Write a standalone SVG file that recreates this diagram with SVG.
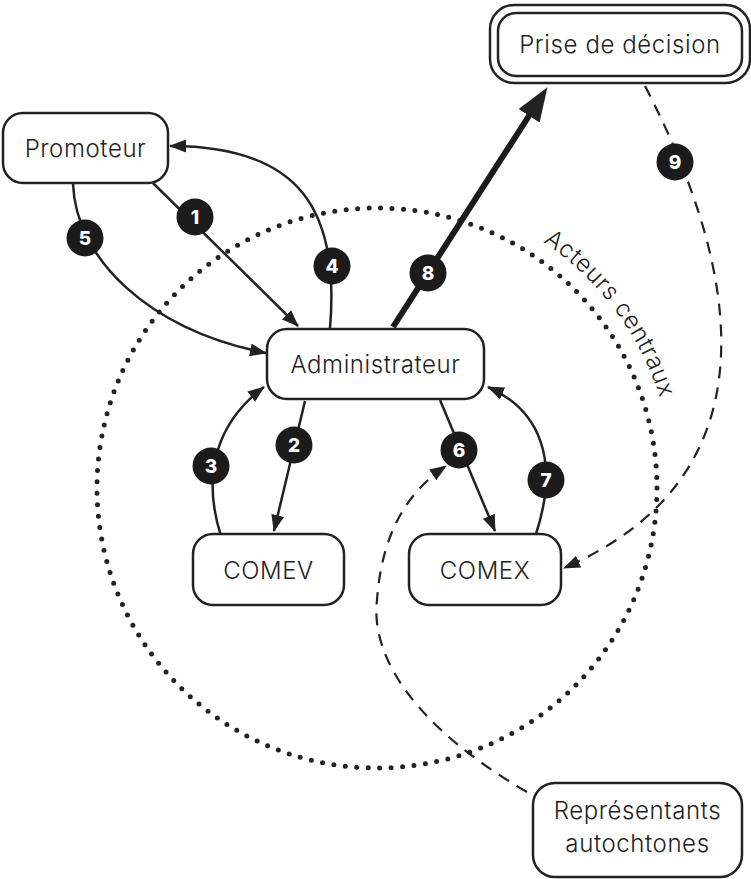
<svg xmlns="http://www.w3.org/2000/svg" width="751" height="879" viewBox="0 0 751 879">
<defs>
<marker id="ah" markerUnits="userSpaceOnUse" markerWidth="18" markerHeight="14" refX="16" refY="6.5" orient="auto">
<path d="M0,0 L17,6.5 L0,13 z" fill="#222"/>
</marker>
<marker id="ahb" markerUnits="userSpaceOnUse" markerWidth="36" markerHeight="28" refX="8" refY="12.5" orient="auto">
<path d="M0,0 L34,12.5 L0,25 z" fill="#222"/>
</marker>
<style>
.box{fill:#fff;stroke:#222;stroke-width:2.5}
.lbl{font-family:Inter,"Open Sans","Liberation Sans",sans-serif;font-size:24px;font-weight:300;letter-spacing:0.6px;fill:#222;text-anchor:middle}
.ln{fill:none;stroke:#222;stroke-width:2.5}
.thick{fill:none;stroke:#1b1b1b;stroke-width:6}
.dash{fill:none;stroke:#222;stroke-width:2.2;stroke-dasharray:12 9}
.bd circle{fill:#1b1b1b}
.bd text{font-family:Inter,"Liberation Sans",sans-serif;font-weight:800;font-size:19px;fill:#fff;text-anchor:middle}
</style>
</defs>
<rect width="751" height="879" fill="#fff"/>

<g id="zone">
<circle cx="377" cy="488" r="280" fill="none" stroke="#222" stroke-width="5" stroke-linecap="round" stroke-dasharray="0 11.5"/>
<path id="arcText" d="M543.1,241.8 A297,297 0 0 1 672.9,462.1" fill="none"/>
<text class="lbl" style="text-anchor:start"><textPath href="#arcText">Acteurs centraux</textPath></text>
</g>

<g id="connectors">
<path class="ln" d="M153,183 L298,326" marker-end="url(#ah)"/>
<path class="ln" d="M73,184 C76,260 150,330 266,353" marker-end="url(#ah)"/>
<path class="ln" d="M330,328 C340,210 300,146 170,146" marker-end="url(#ah)"/>
<path class="thick" d="M393,327 L533.4,109" marker-end="url(#ahb)"/>
<path class="dash" d="M645,86 C730,250 790,470 564,568" marker-end="url(#ah)"/>
<path class="ln" d="M305,401 L274,531" marker-end="url(#ah)"/>
<path class="ln" d="M221,536 C200,470 220,420 264,387" marker-end="url(#ah)"/>
<path class="ln" d="M440,400 L495,531" marker-end="url(#ah)"/>
<path class="ln" d="M536,534 C560,460 540,410 488,387" marker-end="url(#ah)"/>
<path class="dash" d="M527,792 C420,730 370,660 377,600 C382,530 410,490 446,466" marker-end="url(#ah)"/>
</g>

<g id="badges">
<g class="bd" id="b1"><circle cx="195" cy="217" r="18.5"/><text x="195" y="224">1</text></g>
<g class="bd" id="b2"><circle cx="294" cy="445" r="18.5"/><text x="294" y="452">2</text></g>
<g class="bd" id="b3"><circle cx="211" cy="466" r="18.5"/><text x="211" y="473">3</text></g>
<g class="bd" id="b4"><circle cx="332" cy="266" r="18.5"/><text x="332" y="273">4</text></g>
<g class="bd" id="b5"><circle cx="85" cy="238" r="18.5"/><text x="85" y="245">5</text></g>
<g class="bd" id="b6"><circle cx="459" cy="450" r="18.5"/><text x="459" y="457">6</text></g>
<g class="bd" id="b7"><circle cx="546" cy="480" r="18.5"/><text x="546" y="487">7</text></g>
<g class="bd" id="b8"><circle cx="428" cy="273" r="18.5"/><text x="428" y="280">8</text></g>
<g class="bd" id="b9"><circle cx="675" cy="162" r="18.5"/><text x="675" y="169">9</text></g>
</g>

<g id="promoteur">
<rect class="box" x="3" y="113" width="165" height="70" rx="20"/>
<text class="lbl" x="85.5" y="156.5">Promoteur</text>
</g>
<g id="prise-de-decision">
<rect class="box" x="490" y="5" width="260" height="78" rx="24"/>
<rect class="box" x="498" y="13" width="244" height="63" rx="18"/>
<text class="lbl" x="620" y="52.5">Prise de décision</text>
</g>
<g id="administrateur">
<rect class="box" x="267" y="329" width="217" height="70" rx="20"/>
<text class="lbl" x="375.5" y="372.5">Administrateur</text>
</g>
<g id="comev">
<rect class="box" x="193" y="534" width="151" height="71" rx="20"/>
<text class="lbl" x="268.5" y="578.5">COMEV</text>
</g>
<g id="comex">
<rect class="box" x="409" y="534" width="152" height="71" rx="20"/>
<text class="lbl" x="485" y="578.5">COMEX</text>
</g>
<g id="representants">
<rect class="box" x="533" y="783" width="209" height="94" rx="22"/>
<text class="lbl" x="637.5" y="818.5">Représentants</text>
<text class="lbl" x="637.5" y="851.5">autochtones</text>
</g>
</svg>
